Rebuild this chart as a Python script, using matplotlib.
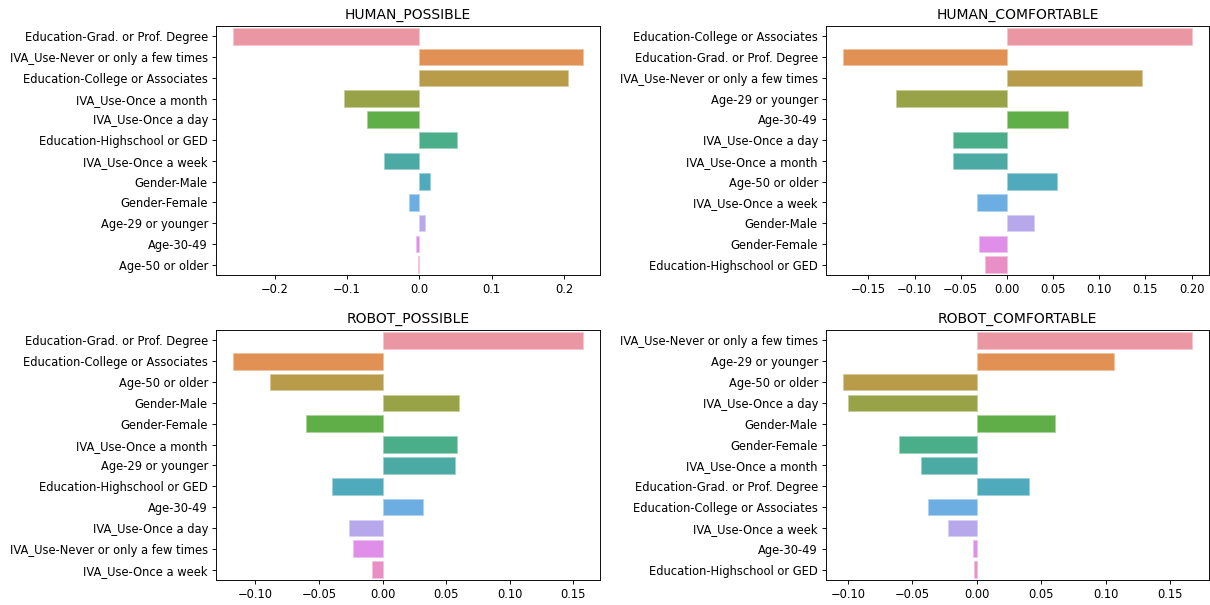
import numpy as np
import matplotlib
matplotlib.use("Agg")
import matplotlib.pyplot as plt
import seaborn as sns

# data (feature importances, top to bottom)
human_possible_labels = ["Education-Grad. or Prof. Degree", "IVA_Use-Never or only a few times",
                         "Education-College or Associates", "IVA_Use-Once a month", "IVA_Use-Once a day",
                         "Education-Highschool or GED", "IVA_Use-Once a week", "Gender-Male",
                         "Gender-Female", "Age-29 or younger", "Age-30-49", "Age-50 or older"]
human_possible_vals = [-0.257, 0.2255, 0.2048, -0.1045, -0.0718, 0.0516, -0.0493, 0.0143,
                       -0.0147, 0.0078, -0.0051, -0.0023]

human_comf_labels = ["Education-College or Associates", "Education-Grad. or Prof. Degree",
                     "IVA_Use-Never or only a few times", "Age-29 or younger", "Age-30-49",
                     "IVA_Use-Once a day", "IVA_Use-Once a month", "Age-50 or older",
                     "IVA_Use-Once a week", "Gender-Male", "Gender-Female", "Education-Highschool or GED"]
human_comf_vals = [0.200, -0.177, 0.1468, -0.1205, 0.0658, -0.0579, -0.0579, 0.0543,
                   -0.032, 0.0299, -0.0299, -0.0234]

robot_possible_labels = ["Education-Grad. or Prof. Degree", "Education-College or Associates",
                         "Age-50 or older", "Gender-Male", "Gender-Female", "IVA_Use-Once a month",
                         "Age-29 or younger", "Education-Highschool or GED", "Age-30-49",
                         "IVA_Use-Once a day", "IVA_Use-Never or only a few times", "IVA_Use-Once a week"]
robot_possible_vals = [0.1573, -0.1172, -0.0886, 0.060, -0.0598, 0.0582, 0.0572, -0.0399,
                       0.0317, -0.0262, -0.0233, -0.0081]

robot_comf_labels = ["IVA_Use-Never or only a few times", "Age-29 or younger", "Age-50 or older",
                     "IVA_Use-Once a day", "Gender-Male", "Gender-Female", "IVA_Use-Once a month",
                     "Education-Grad. or Prof. Degree", "Education-College or Associates",
                     "IVA_Use-Once a week", "Age-30-49", "Education-Highschool or GED"]
robot_comf_vals = [0.1665, 0.1064, -0.1034, -0.100, 0.0608, -0.0606, -0.043, 0.0405,
                   -0.0379, -0.0227, -0.0028, -0.0021]

titles = ["HUMAN_POSSIBLE", "HUMAN_COMFORTABLE", "ROBOT_POSSIBLE", "ROBOT_COMFORTABLE"]

colors = [sns.desaturate(c, 0.75) for c in sns.husl_palette(12, l=.7)]
edges = [tuple(0.55 * np.array(c) + 0.45) for c in colors]

DPI = 83
W, H = 1210, 605
fig = plt.figure(figsize=(W / DPI, H / DPI), dpi=DPI)
boxes = [(216, 26, 600, 275), (826, 26, 1209, 275),
         (216, 330, 600, 580), (826, 330, 1209, 580)]

panels = [(human_possible_labels, human_possible_vals),
          (human_comf_labels, human_comf_vals),
          (robot_possible_labels, robot_possible_vals),
          (robot_comf_labels, robot_comf_vals)]

for (labels, vals), title, (x0, y0, x1, y1) in zip(panels, titles, boxes):
    ax = fig.add_axes([x0 / W, 1 - y1 / H, (x1 - x0) / W, (y1 - y0) / H])
    pos = np.arange(len(labels))
    ax.barh(pos, vals, height=0.8, color=colors, edgecolor=edges, linewidth=0.7)
    ax.set_yticks(pos)
    ax.set_yticklabels(labels)
    ax.set_ylim(len(labels) - 0.5, -0.5)
    ax.set_title(title, fontsize=12)

fig.savefig("out.png", dpi=DPI)
